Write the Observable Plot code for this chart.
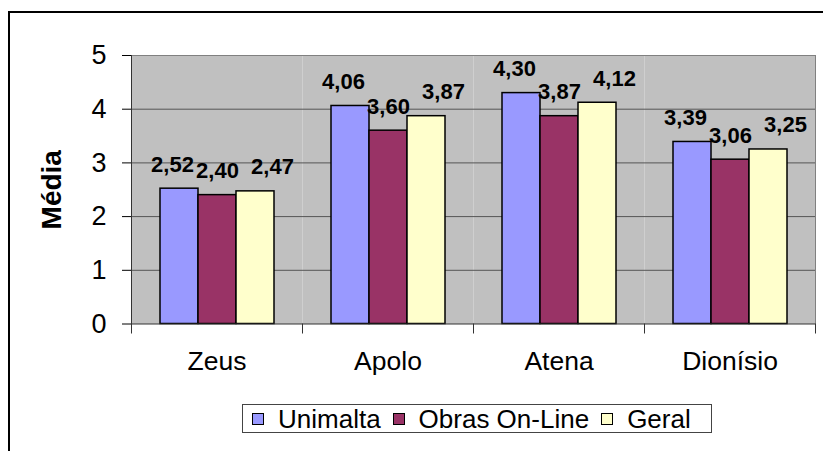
<!DOCTYPE html>
<html><head><meta charset="utf-8">
<script src="https://cdn.jsdelivr.net/npm/d3@7"></script>
<script src="https://cdn.jsdelivr.net/npm/@observablehq/plot@0.6"></script>
<style>
html,body{margin:0;padding:0;background:#fff;overflow:hidden;width:823px;height:451px;font-family:"Liberation Sans",Arial,sans-serif;}
#border{position:absolute;left:8px;top:11px;width:900px;height:600px;border-top:2px solid #000;border-left:2px solid #000;}
#chart{position:absolute;left:0;top:0;}
#chart svg [aria-label="y-axis label"]{font-weight:bold;font-size:28px;}
#legend{position:absolute;left:242px;top:404px;width:459px;height:27px;border:1px solid #444;background:#fff;display:flex;align-items:center;padding-left:9px;box-sizing:content-box;font-size:26px;color:#000;}
#legend .sw{width:12px;height:12px;box-sizing:border-box;border:1px solid #000;margin-right:14px;flex:none;}
#legend .lb{margin-right:12px;line-height:1;white-space:nowrap;}
</style>
</head><body>
<div id="border"></div>
<div id="chart"></div>
<div id="legend"></div>
<script>
const categories = ["Zeus", "Apolo", "Atena", "Dionísio"];
const series = ["Unimalta", "Obras On-Line", "Geral"];
const unimalta = [2.52, 4.06, 4.30, 3.39];
const obras = [2.40, 3.60, 3.87, 3.06];
const geral = [2.47, 3.87, 4.12, 3.25];
const yTicks = [0, 1, 2, 3, 4, 5];
const colors = ["#9999FF", "#993366", "#FFFFCC"];

const valuesBySeries = [unimalta, obras, geral];
const rows = [];
categories.forEach((c, i) => series.forEach((s, j) => rows.push({cat: c, series: s, value: valuesBySeries[j][i]})));
const fmt = v => d3.format(".2f")(v).replace(".", ",");
const labelDx = {"Unimalta": -7, "Obras On-Line": 0, "Geral": 17};
const first = categories[0], last = categories[categories.length - 1];

const chart = Plot.plot({
  width: 823, height: 390,
  marginTop: 55, marginBottom: 66.5, marginLeft: 131, marginRight: 8,
  style: {fontFamily: "'Liberation Sans', Arial, sans-serif", color: "#000", background: "transparent", overflow: "visible"},
  fx: {domain: categories, padding: 0, label: null},
  x: {domain: series, paddingInner: 0, paddingOuter: 0.73, axis: null},
  y: {domain: [0, 5], label: null},
  color: {domain: series, range: colors},
  marks: [
    Plot.frame({fill: "#C0C0C0", stroke: null}),
    Plot.ruleY(yTicks.filter(t => t > 0 && t < 5), {stroke: "#555", strokeWidth: 1}),
    Plot.ruleY([5], {stroke: "#808080", strokeWidth: 1}),
    Plot.frame({fx: last, anchor: "right", stroke: "#808080"}),
    Plot.barY(rows, {fx: "cat", x: "series", y: "value", fill: "series", stroke: "#000", strokeWidth: 1.5}),
    Plot.ruleY([0], {stroke: "#333"}),
    Plot.frame({anchor: "left", stroke: "#333", insetTop: 268.5, insetBottom: -9}),
    Plot.frame({fx: last, anchor: "right", stroke: "#333", insetTop: 268.5, insetBottom: -9}),
    Plot.frame({fx: first, anchor: "left", stroke: "#333"}),
    Plot.axisY({ticks: yTicks, tickFormat: d3.format("d"), tickSize: 9, tickPadding: 16, fontSize: 27, label: "Média", labelAnchor: "center", labelOffset: 90, labelArrow: "none"}),
    Plot.axisFx({anchor: "bottom", tickSize: 0, tickPadding: 27, fontSize: 26.5, label: null}),
    ...series.map(s => Plot.text(rows.filter(d => d.series === s), {
      fx: "cat", x: "series", y: "value", text: d => fmt(d.value),
      lineAnchor: "bottom", dy: -17, dx: labelDx[s], fontSize: 22, fontWeight: "bold", fill: "#000"
    }))
  ]
});
document.getElementById("chart").appendChild(chart);

const legend = document.getElementById("legend");
series.forEach((s, j) => {
  const sw = document.createElement("span"); sw.className = "sw"; sw.style.background = colors[j];
  const lb = document.createElement("span"); lb.className = "lb"; lb.textContent = s;
  legend.appendChild(sw); legend.appendChild(lb);
});
</script>
</body></html>
